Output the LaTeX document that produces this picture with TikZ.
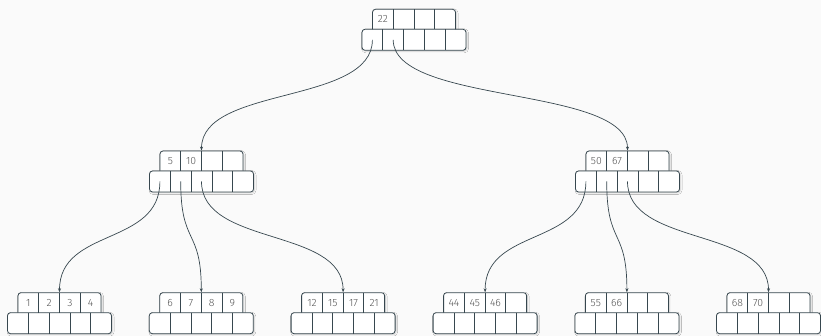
\documentclass[tikz,border=0pt]{standalone}
\usepackage{fontspec}
\setmainfont{Fira Sans Light}
\usetikzlibrary{arrows.meta, shadows.blur}
\definecolor{edgeslate}{HTML}{37474F}
\definecolor{keygrey}{HTML}{555555}
\definecolor{paperbg}{HTML}{FAFAFA}

\tikzset{
  keyrow/.style={draw=edgeslate, fill=white, line width=0.8pt, rounded corners=3pt,
    minimum width=83pt, minimum height=24pt, inner sep=0pt,
    blur shadow={shadow xshift=1pt, shadow yshift=-1pt, shadow blur steps=5, shadow blur radius=1.5pt, shadow opacity=18}},
  ptrrow/.style={keyrow, minimum width=104pt, minimum height=21pt},
  keytext/.style={text=keygrey, font=\fontsize{10.5}{10.5}\selectfont, inner sep=0pt},
  ptrcell/.style={inner sep=0pt, minimum size=1pt},
  cellline/.style={draw=edgeslate, line width=0.8pt},
  child/.style={draw=edgeslate, line width=0.7pt, -{Stealth[length=4pt, width=3pt]}}
}

% one B-tree node: name, x, top y, keys
\newcommand{\btnode}[4]{%
  \begin{scope}[shift={(#2,#3)}]
    \node[keyrow] (#1) at (0,-12) {};
    \node[ptrrow] (#1-ptr) at (0,-30.5) {};
    \foreach \i in {1,2,3}
      \draw[cellline] (-41.5+20.75*\i,0) -- ++(0,-20);
    \foreach \i in {1,...,4}
      \draw[cellline] (-52+20.8*\i,-20) -- ++(0,-21);
    \foreach \k [count=\i] in {#4}
      \node[keytext] (#1-k\i) at (-51.875+20.75*\i,-10) {\k};
    \foreach \i in {0,...,4}
      \node[ptrcell] (#1-p\i) at (-41.6+20.8*\i,-30.5) {};
  \end{scope}}

\begin{document}
\begin{tikzpicture}[x=1pt, y=1pt]
  \fill[paperbg] (0,0) rectangle (821,336);
  \useasboundingbox (0,0) rectangle (821,336);

  % root
  \btnode{root}{414}{326.7}{22}

  % inner nodes
  \btnode{inA}{201.5}{185}{5,10}
  \btnode{inB}{627.5}{185}{50,67}

  % leaves
  \btnode{leafA}{59.5}{43.3}{1,2,3,4}
  \btnode{leafB}{201.3}{43.3}{6,7,8,9}
  \btnode{leafC}{343.1}{43.3}{12,15,17,21}
  \btnode{leafD}{485.1}{43.3}{44,45,46}
  \btnode{leafE}{626.9}{43.3}{55,66}
  \btnode{leafF}{768.5}{43.3}{68,70}

  % child pointers
  \draw[child] (root-p0.center) .. controls +(0,-65) and +(0,65) .. (inA.north);
  \draw[child] (root-p1.center) .. controls +(0,-65) and +(0,65) .. (inB.north);

  \draw[child] (inA-p0.center) .. controls +(0,-65) and +(0,65) .. (leafA.north);
  \draw[child] (inA-p1.center) .. controls +(0,-65) and +(0,65) .. (leafB.north);
  \draw[child] (inA-p2.center) .. controls +(0,-65) and +(0,65) .. (leafC.north);

  \draw[child] (inB-p0.center) .. controls +(0,-65) and +(0,65) .. (leafD.north);
  \draw[child] (inB-p1.center) .. controls +(0,-65) and +(0,65) .. (leafE.north);
  \draw[child] (inB-p2.center) .. controls +(0,-65) and +(0,65) .. (leafF.north);
\end{tikzpicture}
\end{document}
